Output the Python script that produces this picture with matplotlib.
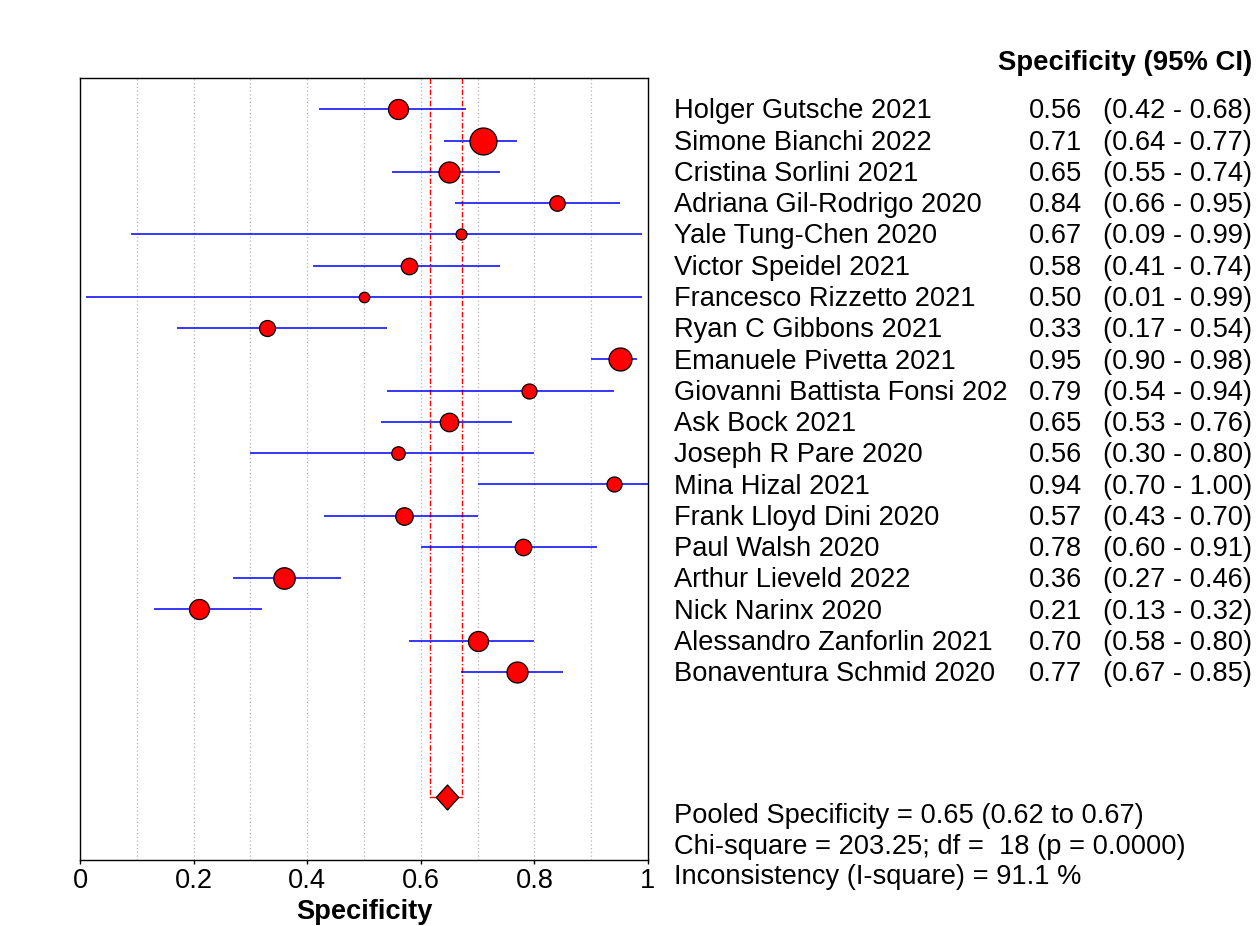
import matplotlib
matplotlib.use("Agg")
import matplotlib.pyplot as plt
from matplotlib.transforms import blended_transform_factory
from matplotlib.path import Path

plt.rcParams['font.family'] = ['Liberation Sans', 'DejaVu Sans']

studies = ["Holger Gutsche 2021", "Simone Bianchi 2022", "Cristina Sorlini 2021",
           "Adriana Gil-Rodrigo 2020", "Yale Tung-Chen 2020", "Victor Speidel 2021",
           "Francesco Rizzetto 2021", "Ryan C Gibbons 2021", "Emanuele Pivetta 2021",
           "Giovanni Battista Fonsi 202", "Ask Bock 2021", "Joseph R Pare 2020",
           "Mina Hizal 2021", "Frank Lloyd Dini 2020", "Paul Walsh 2020",
           "Arthur Lieveld 2022", "Nick Narinx 2020", "Alessandro Zanforlin 2021",
           "Bonaventura Schmid 2020"]
spec = [0.56, 0.71, 0.65, 0.84, 0.67, 0.58, 0.50, 0.33, 0.95, 0.79, 0.65, 0.56,
        0.94, 0.57, 0.78, 0.36, 0.21, 0.70, 0.77]
ci_low = [0.42, 0.64, 0.55, 0.66, 0.09, 0.41, 0.01, 0.17, 0.90, 0.54, 0.53, 0.30,
          0.70, 0.43, 0.60, 0.27, 0.13, 0.58, 0.67]
ci_high = [0.68, 0.77, 0.74, 0.95, 0.99, 0.74, 0.99, 0.54, 0.98, 0.94, 0.76, 0.80,
           1.00, 0.70, 0.91, 0.46, 0.32, 0.80, 0.85]
# marker diameters (pixels) reflecting study weights
weight_px = [20, 27, 21, 15.5, 11, 16.5, 10.5, 16, 23, 15, 18.5, 13.5, 15, 17.5,
             16.5, 21.5, 20, 20, 21]

pooled = 0.647
pooled_low = 0.617
pooled_high = 0.673
pooled_text = "Pooled Specificity = 0.65 (0.62 to 0.67)"
chi_text = "Chi-square = 203.25; df =  18 (p = 0.0000)"
incons_text = "Inconsistency (I-square) = 91.1 %"
header = "Specificity (95% CI)"
xticks = [0, 0.2, 0.4, 0.6, 0.8, 1]
xtick_labels = ["0", "0.2", "0.4", "0.6", "0.8", "1"]

FS = 19.6
W, H = 1256, 926
fig = plt.figure(figsize=(W / 100, H / 100), dpi=100)
ax = fig.add_axes([80 / W, 1 - 859.5 / H, (648 - 80) / W, (859.5 - 78) / H])

n = len(studies)
rows = list(range(1, n + 1))
pooled_row = n + 4

ax.set_xlim(0, 1)
ax.set_ylim(n + 6, 0)

# grid
for g in [0.1, 0.2, 0.3, 0.4, 0.5, 0.6, 0.7, 0.8, 0.9]:
    ax.axvline(g, color='#b4b4b4', lw=0.9, ls=(0, (1, 2)), zorder=0)

# pooled CI dashed lines
ax.plot([pooled_low, pooled_low], [0, pooled_row], color='red', lw=1,
        ls=(0, (4, 1.5, 1, 1.5)), zorder=1)
ax.plot([pooled_high, pooled_high], [0, pooled_row], color='red', lw=1,
        ls=(0, (4, 1.5, 1, 1.5)), zorder=1)
ax.plot([pooled_low, pooled_high], [pooled_row, pooled_row], color='red', lw=1, zorder=1)

# CI lines and points
for r, s, lo, hi, w in zip(rows, spec, ci_low, ci_high, weight_px):
    ax.plot([lo, hi], [r, r], color='blue', lw=1.1, zorder=2, solid_capstyle='butt')
    ax.plot([s], [r], marker='o', markersize=w * 0.72, markerfacecolor='red',
            markeredgecolor='black', markeredgewidth=0.9, zorder=3)

# pooled diamond
diamond = Path([(0, 1), (0.9, 0), (0, -1), (-0.9, 0), (0, 1)],
               [Path.MOVETO, Path.LINETO, Path.LINETO, Path.LINETO, Path.CLOSEPOLY])
ax.plot([pooled], [pooled_row], marker=diamond, markersize=25 * 0.72,
        markerfacecolor='red', markeredgecolor='black', markeredgewidth=0.9, zorder=4)

ax.set_yticks([])
ax.set_xticks(xticks)
ax.set_xticklabels(xtick_labels, fontsize=FS)
ax.tick_params(axis='x', length=3, width=1, pad=3, direction='out')
for sp in ax.spines.values():
    sp.set_linewidth(1)
    sp.set_color('black')
ax.set_xlabel("Specificity", fontsize=FS, fontweight='bold', labelpad=4)

# right side text
tr = blended_transform_factory(fig.transFigure, ax.transData)
dy = 0.07
for r, name, s, lo, hi in zip(rows, studies, spec, ci_low, ci_high):
    ax.text(674 / W, r + dy, name, transform=tr, fontsize=FS, ha='left', va='center',
            clip_on=False)
    ax.text(1029 / W, r + dy, f"{s:.2f}", transform=tr, fontsize=FS, ha='left',
            va='center', clip_on=False)
    ax.text(1252 / W, r + dy, f"({lo:.2f} - {hi:.2f})", transform=tr, fontsize=FS,
            ha='right', va='center', clip_on=False)

fig.text(1252 / W, 1 - 63 / H, header, fontsize=FS + 0.2, fontweight='bold',
         ha='right', va='center')
fig.text(674 / W, 1 - 816 / H, pooled_text, fontsize=FS, ha='left', va='center')
fig.text(674 / W, 1 - 847 / H, chi_text, fontsize=FS, ha='left', va='center')
fig.text(674 / W, 1 - 877 / H, incons_text, fontsize=FS, ha='left', va='center')

fig.savefig("out.png", dpi=100)
